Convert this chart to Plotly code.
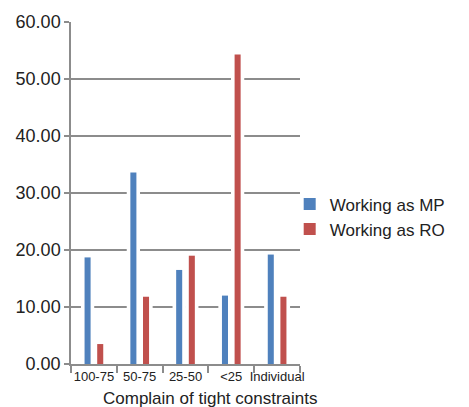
import plotly.graph_objects as go

# Complaint level categories and share of respondents (%) per role
categories = ["100-75", "50-75", "25-50", "<25", "Individual"]
working_as_mp = [18.7, 33.6, 16.5, 12.0, 19.2]
working_as_ro = [3.5, 11.8, 19.0, 54.3, 11.8]
y_ticks = [0, 10, 20, 30, 40, 50, 60]

BLUE = "#4f81bd"
RED = "#c0504d"
GRID = "#8c8c8c"
TEXT = "#222222"
FONT = "Liberation Sans, Arial, Helvetica, sans-serif"

# bar geometry in category units (one category = 1.0)
BAR_W = 0.132      # coloured bar
HALO_W = 0.29      # white backing that breaks the gridlines around each bar
CENTER = 0.138     # distance of each bar centre from the category centre

fig = go.Figure()
for name, vals, color, sign in [
    ("Working as MP", working_as_mp, BLUE, -1),
    ("Working as RO", working_as_ro, RED, 1),
]:
    c = sign * CENTER
    # white backing bar (same values, wider) masks gridlines next to the bar
    fig.add_trace(go.Bar(
        x=categories, y=vals, width=HALO_W, offset=c - HALO_W / 2,
        marker=dict(color="white", line=dict(width=0)),
        showlegend=False, hoverinfo="skip",
    ))
    fig.add_trace(go.Bar(
        name=name, x=categories, y=vals, width=BAR_W, offset=c - BAR_W / 2,
        marker=dict(color=color, line=dict(width=0)),
    ))

fig.update_layout(
    width=469, height=407,
    margin=dict(l=71, r=169, t=17, b=43),
    paper_bgcolor="white", plot_bgcolor="white",
    barmode="overlay",
    font=dict(family=FONT, color=TEXT),
    showlegend=True,
    legend=dict(
        x=0.955, xanchor="left", y=0.43, yanchor="middle",
        font=dict(size=17, color=TEXT, family=FONT),
        bgcolor="rgba(0,0,0,0)", itemwidth=30, tracegroupgap=0,
    ),
    annotations=[dict(
        text="Complain of tight constraints",
        xref="paper", yref="paper", x=0.61, y=-0.068,
        xanchor="center", yanchor="top", showarrow=False,
        font=dict(size=17, color=TEXT, family=FONT),
    )],
)

fig.update_xaxes(
    type="category", tickangle=0, tickson="boundaries",
    ticks="outside", ticklen=7, tickwidth=1.5, tickcolor=GRID,
    showline=True, linecolor=GRID, linewidth=1.5,
    showgrid=False, zeroline=False,
    tickfont=dict(size=13, color=TEXT, family=FONT),
)
fig.update_yaxes(
    range=[0, 60], tickvals=y_ticks, tickformat=".2f",
    ticks="outside", ticklen=5, tickwidth=1.5, tickcolor=GRID,
    showline=True, linecolor=GRID, linewidth=1.5,
    showgrid=True, gridcolor=GRID, gridwidth=1.5,
    zeroline=False,
    tickfont=dict(size=18, color=TEXT, family=FONT),
)

fig.write_html("out.html")
